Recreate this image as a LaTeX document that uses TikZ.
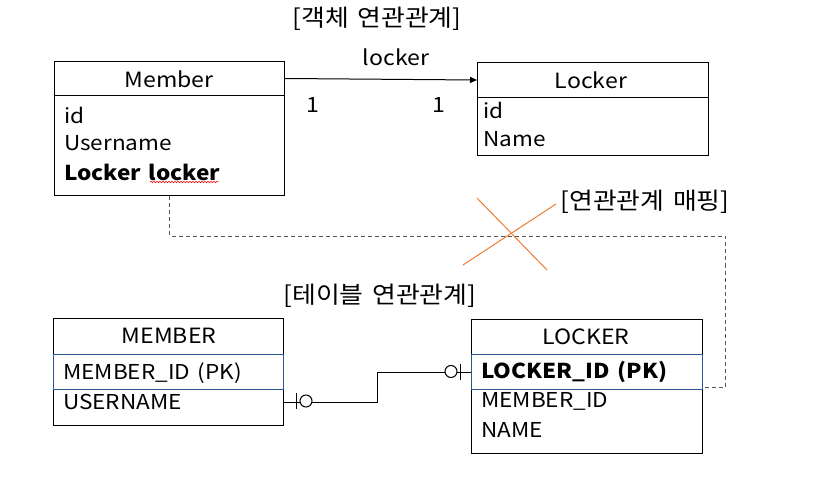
\documentclass[tikz,border=0pt]{standalone}
\usepackage{fontspec}
\setmainfont{Noto Sans CJK KR}[FakeStretch=1.1, WordSpace=1.5]
\usetikzlibrary{arrows.meta,decorations.pathmorphing}
\definecolor{pkblue}{HTML}{2F5597}
\definecolor{xorange}{HTML}{ED7D31}
\definecolor{dashgray}{HTML}{555555}
\begin{document}
\begin{tikzpicture}[x=1pt,y=-1pt,
  box/.style={draw, line width=1pt, anchor=north west, inner sep=0, minimum width=#1},
  pkrow/.style={draw=pkblue, line width=1pt, anchor=north west, inner sep=0, minimum width=#1, minimum height=35pt},
  txt/.style={anchor=west, inner sep=0, font=\fontsize{20.5}{22}\selectfont},
  ttl/.style={inner sep=0, font=\fontsize{21}{24}\selectfont},
  lbl/.style={inner sep=0, font=\fontsize{23.5}{26}\selectfont},
  relline/.style={line width=1pt, black},
  dashline/.style={line width=1pt, dashgray, dash pattern=on 4pt off 3pt},
  xline/.style={line width=1pt, xorange}]
\useasboundingbox (0,0) rectangle (818,478);

% ---------- object model ----------
\node[box=230pt, minimum height=34pt] (mhead) at (54,61) {};
\node[box=230pt, minimum height=100pt] (mbody) at (54,95) {};
\node[ttl] (mtitle) at (169,79) {Member};
\node[txt] (mid) at (64,115) {id};
\node[txt] (mun) at (64,143) {Username};
\node[txt] (mll) at (64,172) {\bfseries Locker locker};
\draw[red, line width=0.6pt, decorate, decoration={snake, amplitude=0.7pt, segment length=3pt}]
  (150,182) -- (218,182);

\node[box=231pt, minimum height=35pt] (lhead) at (477,62) {};
\node[box=231pt, minimum height=58pt] (lbody) at (477,97) {};
\node[ttl] (ltitle) at (591,80) {Locker};
\node[txt] (lid) at (483,110) {id};
\node[txt] (lname) at (483,139) {Name};

\draw[line width=1pt, -{Triangle[length=7pt,width=6pt]}] (mhead.east) -- (lhead.west);
\node[ttl] (lockerlbl) at (396,57) {locker};
\node[ttl] (one1) at (313,105) {1};
\node[ttl] (one2) at (439,105) {1};
\node[lbl] (objlbl) at (377,19) {[객체 연관관계]};

% ---------- table model ----------
\node[box=230pt, minimum height=36pt] (thead) at (53,318) {};
\node[box=230pt, minimum height=36pt] (tbody) at (53,389) {};
\node[pkrow=230pt] (tpk) at (53,354) {};
\node[ttl] (ttitle) at (169,336) {MEMBER};
\node[txt] (tmid) at (63,373) {MEMBER\_ID (PK)};
\node[txt] (tus) at (63,402) {USERNAME};

\node[box=231pt, minimum height=35pt] (khead) at (471,319) {};
\node[box=231pt, minimum height=64pt] (kbody) at (471,389) {};
\node[pkrow=231pt] (kpk) at (471,354) {};
\node[ttl] (ktitle) at (586,337) {LOCKER};
\node[txt] (klid) at (481,372) {\bfseries LOCKER\_ID (PK)};
\node[txt] (kmid) at (481,401) {MEMBER\_ID};
\node[txt] (kname) at (481,430) {NAME};

\node[lbl] (tbllbl) at (380,296) {[테이블 연관관계]};

% relationship line between tables
\coordinate (bend) at (377,0);
\draw[relline] (tbody.east |- tus) -| (bend |- kpk) -- (kpk.west);
\draw[relline] (296,393) -- (296,409);
\draw[relline, fill=white] (306,401) circle[radius=6pt];
\draw[relline] (460,364) -- (460,380);
\draw[relline, fill=white] (451,371.5) circle[radius=6pt];

% dashed mapping line
\coordinate (dturn) at (725,236);
\draw[dashline] (mbody.south) |- (dturn) |- ([yshift=3pt]kpk.south east);

% orange cross
\draw[xline] (477,198) -- (547,270);
\draw[xline] (463,265) -- (556,204);
\node[lbl] (maplbl) at (645,202) {[연관관계 매핑]};
\end{tikzpicture}
\end{document}
